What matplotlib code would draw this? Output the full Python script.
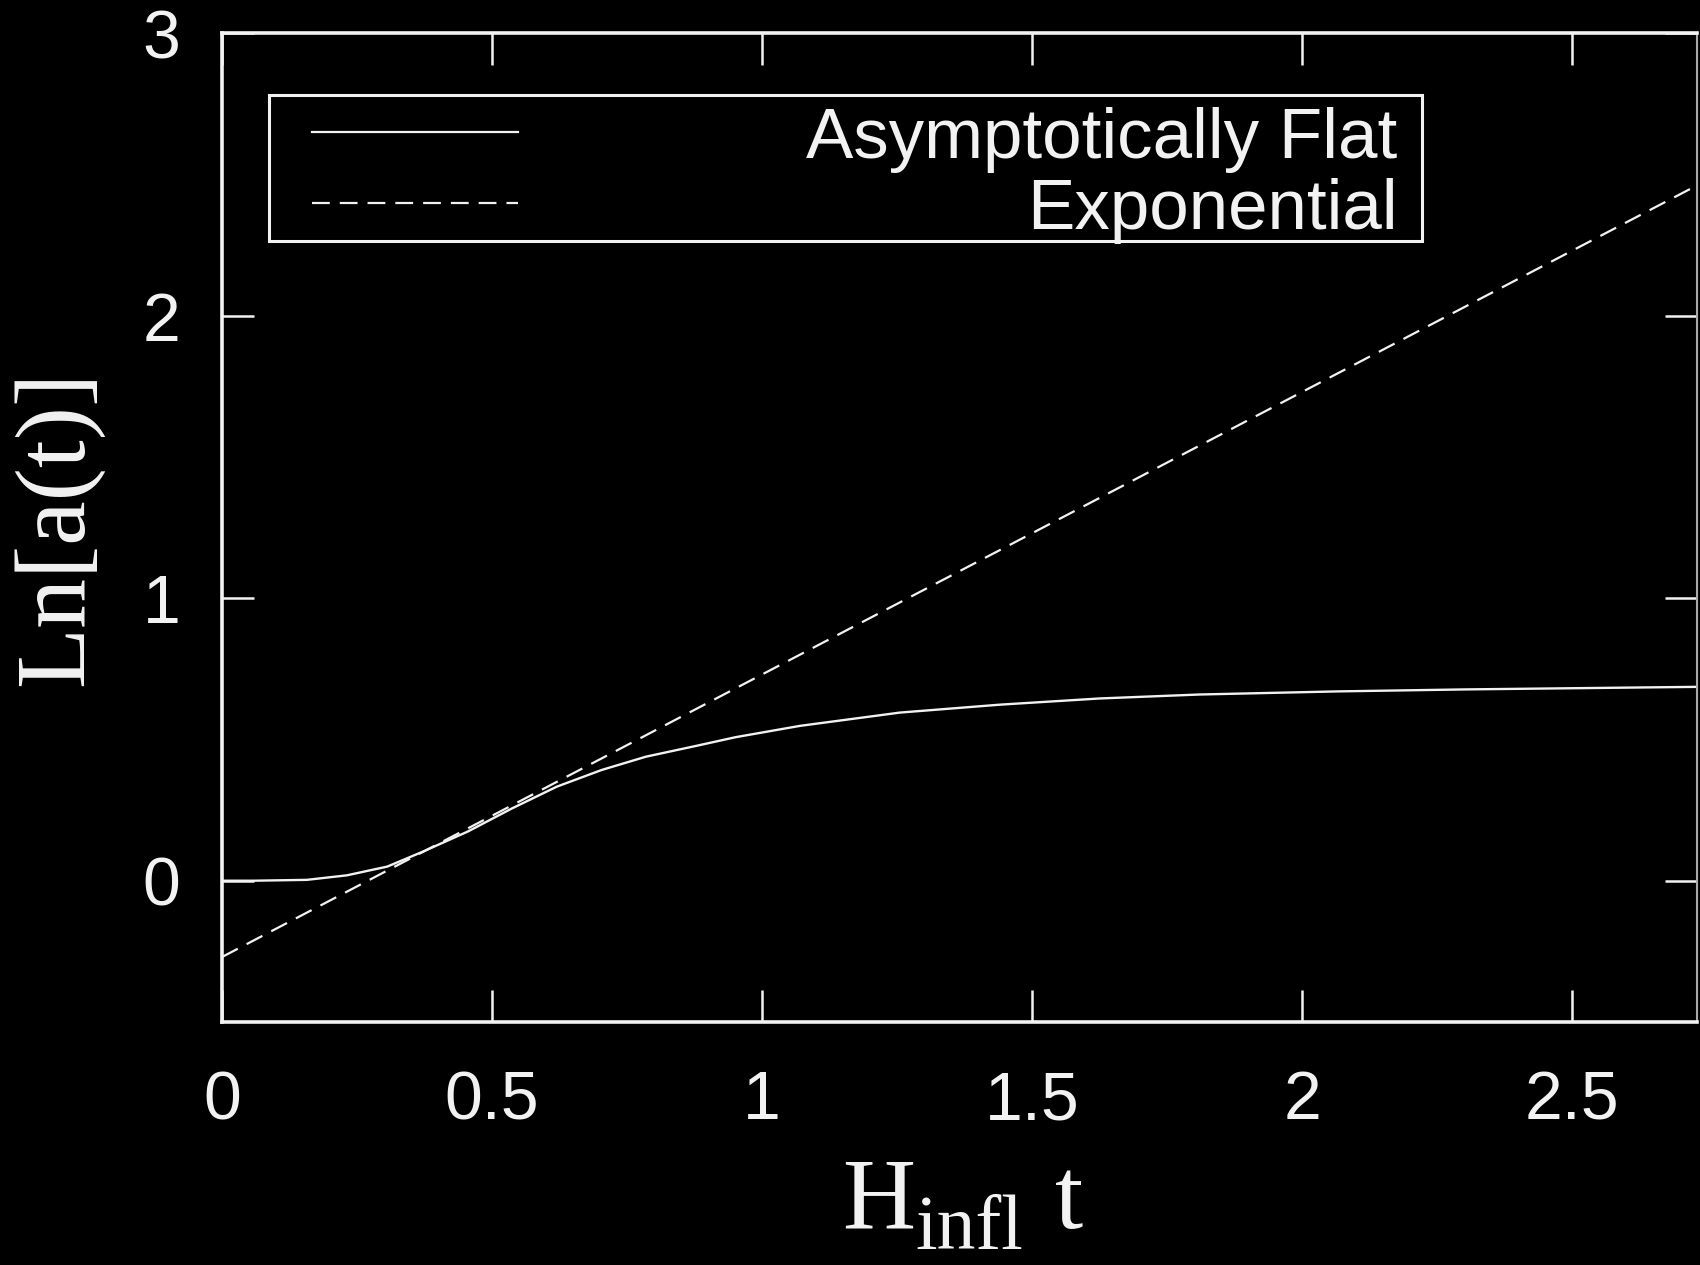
import matplotlib
matplotlib.use('Agg')
import matplotlib.pyplot as plt
from matplotlib.patches import Rectangle

# values
flat_t = [0.0, 0.058, 0.157, 0.231, 0.306, 0.372, 0.455, 0.537, 0.62, 0.703,
          0.785, 0.875, 0.951, 1.07, 1.255, 1.44, 1.625, 1.81, 2.066,
          2.302, 2.538, 2.727]
flat_lna = [0.0, 0.0, 0.003, 0.019, 0.05, 0.103, 0.174, 0.256, 0.333, 0.392,
            0.439, 0.476, 0.508, 0.548, 0.595, 0.623, 0.645, 0.659, 0.670,
            0.677, 0.682, 0.686]
exp_t = [0.0, 2.73]
exp_lna = [-0.27, 2.46]

xticks = [0, 0.5, 1, 1.5, 2, 2.5]
xticklabels = ['0', '0.5', '1', '1.5', '2', '2.5']
yticks = [0, 1, 2, 3]
yticklabels = ['0', '1', '2', '3']
labels = ['Asymptotically Flat', 'Exponential']

fg = '#f2f2f2'
dash = (8, 4.5)

fig = plt.figure(figsize=(17, 12.65), dpi=100, facecolor='black')
ax = fig.add_axes([0.1306, 0.1921, 0.8674, 0.7818], facecolor='black')

ax.plot(flat_t, flat_lna, color=fg, lw=1.7)
ax.plot(exp_t, exp_lna, color=fg, lw=1.6, dashes=dash)

ax.set_xlim(0, 2.73)
ax.set_ylim(-0.5, 3)
ax.set_xticks(xticks)
ax.set_xticklabels(xticklabels)
ax.set_yticks(yticks)
ax.set_yticklabels(yticklabels)
ax.tick_params(direction='in', length=23, width=1.8, colors=fg,
               top=True, right=True, labelsize=49)
ax.tick_params(axis='x', pad=34)
ax.tick_params(axis='y', pad=30)
for lab in ax.get_xticklabels() + ax.get_yticklabels():
    lab.set_family('Liberation Sans')
for s in ax.spines.values():
    s.set_color(fg)
    s.set_linewidth(2.6)
ax.spines['right'].set_color('#aaaaaa')
ax.spines['right'].set_linewidth(1.5)

ax.set_ylabel('Ln[a(t)]', family='Liberation Serif', fontsize=72, color=fg,
              labelpad=28)

# x label: H with a large "infl" subscript, then t
fig.text(0.4951, 0.0292, 'H', family='Liberation Serif', fontsize=73,
         color=fg, va='baseline')
fig.text(0.5385, 0.0125, 'infl', family='Liberation Serif', fontsize=56,
         color=fg, va='baseline')
fig.text(0.6206, 0.0292, 't', family='Liberation Serif', fontsize=73,
         color=fg, va='baseline')

# gnuplot style key: sample on the left, text right-justified
ax.add_patch(Rectangle((0.032, 0.79), 0.7816, 0.147, transform=ax.transAxes,
                       fill=False, edgecolor=fg, lw=2.2, zorder=5))
ax.plot([0.061, 0.2007], [0.90, 0.90], transform=ax.transAxes, color=fg, lw=1.6)
ax.plot([0.061, 0.2007], [0.828, 0.828], transform=ax.transAxes, color=fg,
        lw=1.6, dashes=dash)
ax.text(0.797, 0.8736, labels[0], transform=ax.transAxes, ha='right',
        va='baseline', fontsize=51, color=fg, family='Liberation Sans')
ax.text(0.797, 0.8018, labels[1], transform=ax.transAxes, ha='right',
        va='baseline', fontsize=51, color=fg, family='Liberation Sans')

fig.savefig('out.png', dpi=100, facecolor='black')
